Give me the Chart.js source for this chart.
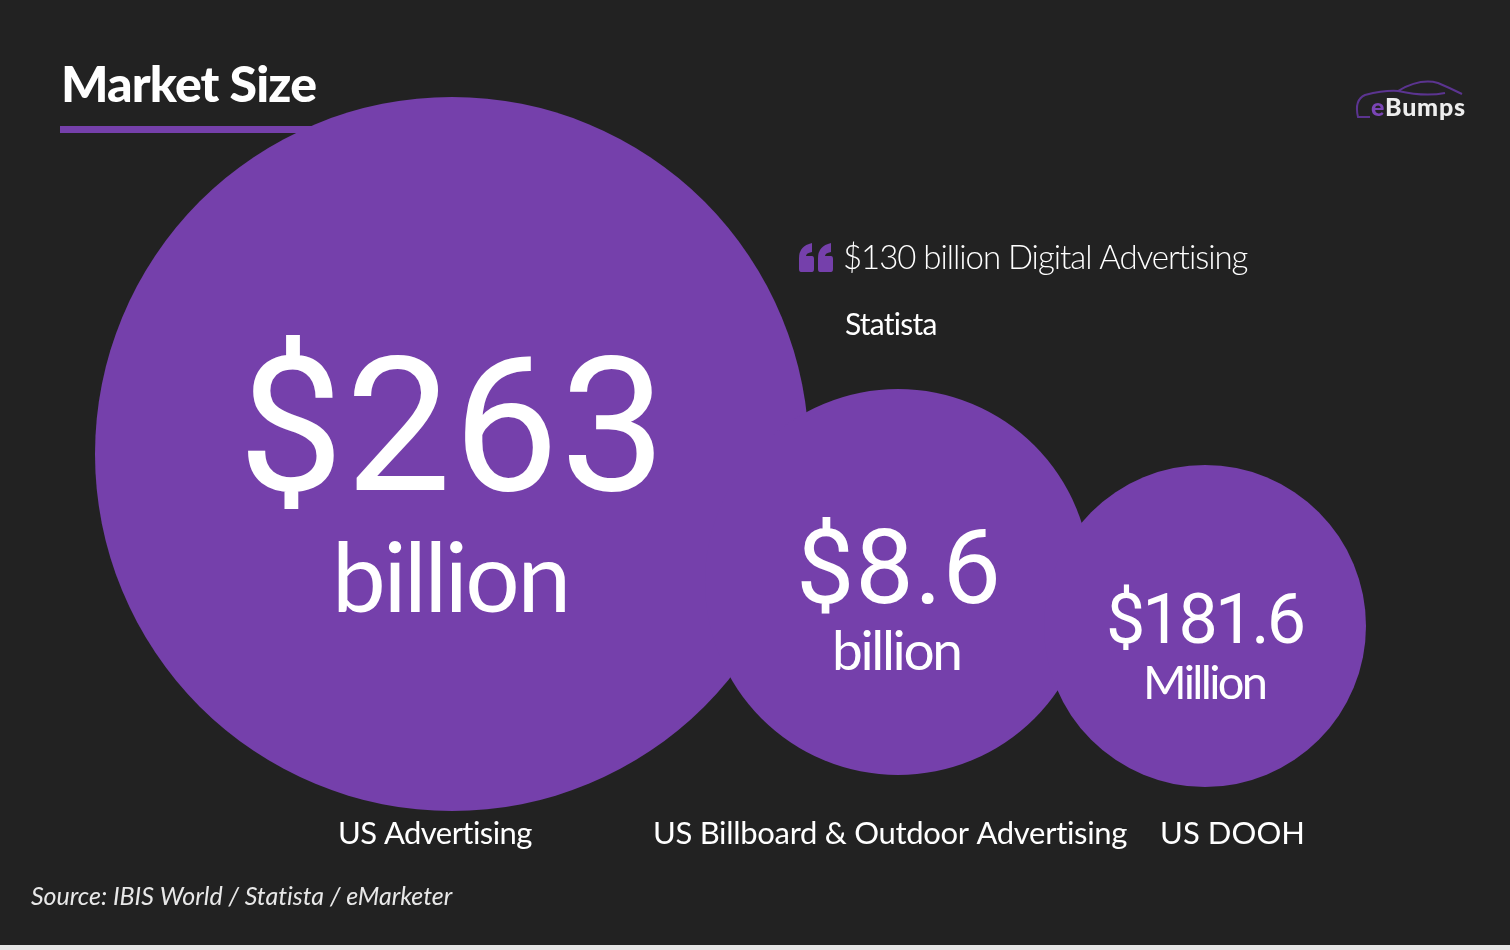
<!DOCTYPE html>
<html>
<head>
<meta charset="utf-8">
<title>Market Size</title>
<script src="https://cdn.jsdelivr.net/npm/chart.js@4"></script>
<style>
	html, body { margin: 0; padding: 0; background: #e6e6e6; overflow: hidden; }
	#wrap { width: 1510px; height: 945px; background: #222222; }
</style>
</head>
<body>
<div id="wrap"><canvas id="cntx_market"></canvas></div>
<script>
const categories = ["US Advertising", "US Billboard & Outdoor Advertising", "US DOOH"];
const valueLabels = ["$263", "$8.6", "$181.6"];
const unitLabels = ["billion", "billion", "Million"];
// bubble centres and radii, in chart units
const bubbleX = [452, 898, 1205];
const bubbleY = [454, 582, 626];
const bubbleR = [357, 193, 161];

const PURPLE = "#7540ab";
const SANS = "Lato, sans-serif";
const DIGITS = "Roboto, sans-serif";

// draw a string so it fills a wanted width, by adjusting letter spacing
const fitText = (ctx, text, x, y, width, font, color) => {
	ctx.font = font;
	ctx.letterSpacing = "0px";
	ctx.fillStyle = color;
	ctx.textAlign = "left";
	ctx.textBaseline = "alphabetic";
	const natural = ctx.measureText(text).width;
	ctx.letterSpacing = (width - natural) / Math.max(text.length - 1, 1) + "px";
	ctx.fillText(text, x, y);
	ctx.letterSpacing = "0px";
};

// one blocky opening quote mark
const quoteMark = (ctx, x, y) => {
	ctx.beginPath();
	ctx.moveTo(x + 2, y + 29);
	ctx.quadraticCurveTo(x, y + 29, x, y + 26);
	ctx.lineTo(x, y + 15);
	ctx.quadraticCurveTo(x, y + 3, x + 13, y);
	ctx.lineTo(x + 13, y + 9);
	ctx.quadraticCurveTo(x + 7, y + 10, x + 7, y + 13);
	ctx.lineTo(x + 13, y + 13);
	ctx.quadraticCurveTo(x + 15, y + 13, x + 15, y + 16);
	ctx.lineTo(x + 15, y + 26);
	ctx.quadraticCurveTo(x + 15, y + 29, x + 13, y + 29);
	ctx.closePath();
	ctx.fill();
};

const slideText = {
	id: "slideText",
	afterDatasetsDraw(chart) {
		const ctx = chart.ctx;
		const points = chart.getDatasetMeta(0).data;
		ctx.save();

		// title and rule
		fitText(ctx, "Market Size", 61, 102, 256, "900 50px " + SANS, "#ffffff");
		ctx.fillStyle = PURPLE;
		ctx.fillRect(60, 126, 255, 7);

		// values inside the bubbles, placed from the bubble centres
		const valueStyle = [
			{ dx: -214, dy: 36, w: 428, font: "400 188px " },
			{ dx: -102, dy: 21, w: 205, font: "400 104px " },
			{ dx: -99, dy: 17, w: 200, font: "400 70px " },
		];
		const unitStyle = [
			{ dx: -120, dy: 158, w: 239, font: "400 96px " },
			{ dx: -66, dy: 88, w: 131, font: "400 55px " },
			{ dx: -62, dy: 73, w: 125, font: "400 47px " },
		];
		points.forEach((pt, i) => {
			const v = valueStyle[i];
			const u = unitStyle[i];
			fitText(ctx, valueLabels[i], pt.x + v.dx, pt.y + v.dy, v.w, v.font + DIGITS, "#ffffff");
			fitText(ctx, unitLabels[i], pt.x + u.dx, pt.y + u.dy, u.w, u.font + SANS, "#ffffff");
		});

		// category names
		const nameX = [338, 653, 1160];
		const nameW = [195, 475, 145];
		categories.forEach((name, i) => {
			fitText(ctx, name, nameX[i], 844, nameW[i], "400 31px " + SANS, "#ffffff");
		});

		// callout
		ctx.fillStyle = PURPLE;
		quoteMark(ctx, 799, 243);
		quoteMark(ctx, 818, 243);
		fitText(ctx, "$130 billion Digital Advertising", 843, 269, 406, "300 33px " + SANS, "#ffffff");
		fitText(ctx, "Statista", 845, 335, 93, "400 30px " + SANS, "#ffffff");

		// source
		fitText(ctx, "Source: IBIS World / Statista / eMarketer", 31, 905, 421, "italic 400 25px " + SANS, "#e8e8e8");

		// logo
		ctx.strokeStyle = "#5b3490";
		ctx.lineWidth = 2;
		ctx.beginPath();
		ctx.moveTo(1370, 117);
		ctx.lineTo(1358, 117);
		ctx.quadraticCurveTo(1354, 100, 1365, 95);
		ctx.quadraticCurveTo(1385, 90, 1398, 91);
		ctx.quadraticCurveTo(1420, 78, 1438, 83);
		ctx.quadraticCurveTo(1450, 88, 1462, 94);
		ctx.moveTo(1398, 91);
		ctx.quadraticCurveTo(1425, 97, 1445, 93);
		ctx.stroke();
		fitText(ctx, "e", 1371, 116, 14, "900 25px " + SANS, "#7a45b5");
		fitText(ctx, "Bumps", 1385, 116, 80, "900 25px " + SANS, "#eeeeee");

		ctx.restore();
	},
};

const drawChart = (canvas) => {
	return new Chart(canvas, {
		type: "bubble",
		data: {
			labels: categories,
			datasets: [
				{
					label: "Market size",
					data: categories.map((c, i) => ({ x: bubbleX[i], y: bubbleY[i], r: bubbleR[i] })),
					backgroundColor: PURPLE,
					borderWidth: 0,
					hoverRadius: 0,
					clip: false,
				},
			],
		},
		options: {
			responsive: true,
			maintainAspectRatio: false,
			animation: false,
			layout: { padding: 0, autoPadding: false },
			plugins: { legend: { display: false }, tooltip: { enabled: false } },
			scales: {
				x: { type: "linear", min: 0, max: 1510, display: false },
				y: { type: "linear", min: 0, max: 945, reverse: true, display: false },
			},
		},
		plugins: [slideText],
	});
};

drawChart(document.querySelector("#cntx_market"));
</script>
</body>
</html>
